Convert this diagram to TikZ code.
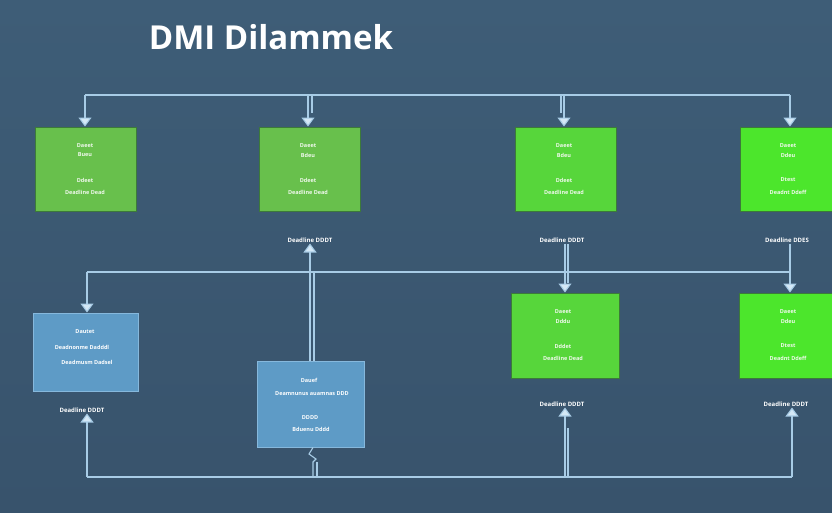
\documentclass[tikz,border=0pt]{standalone}
\usepackage{fontspec}
\setmainfont{Open Sans}
\usetikzlibrary{arrows.meta}
\definecolor{bg}{HTML}{38536C}
\definecolor{bgl}{HTML}{3E5D77}
\definecolor{ln}{HTML}{A8CCE6}
\definecolor{tipc}{HTML}{D4E8F6}
\definecolor{gA}{HTML}{68C04C}
\definecolor{gB}{HTML}{57D63B}
\definecolor{gC}{HTML}{4CE62C}
\definecolor{gbd}{HTML}{3C7A3A}
\definecolor{bl}{HTML}{5E9BC6}
\definecolor{blb}{HTML}{86B8DC}
\begin{document}
\begin{tikzpicture}[x=1pt,y=-1pt,
  gbox/.style={draw=gbd, line width=1pt, inner sep=0pt, minimum width=101pt, minimum height=84pt},
  bbox/.style={draw=blb, fill=bl, line width=1pt, inner sep=0pt},
  txt/.style={text=white!90!gA, font=\fontsize{5.5}{7}\selectfont\bfseries, inner sep=0pt},
  lbl/.style={text=white, font=\fontsize{6}{7}\selectfont\bfseries, inner sep=1pt},
  wire/.style={draw=ln, line width=1.1pt},
  arr/.style={wire, -{Triangle[width=13pt,length=9pt,fill=tipc]}}
]
\shade[top color=bgl, bottom color=bg] (0,0) rectangle (832,512);
\useasboundingbox (0,0) rectangle (832,512);

% title
\node[text=white, font=\fontsize{33}{36}\selectfont\bfseries] (title) at (271,37) {DMI Dilammek};

% top row boxes
\node[gbox, fill=gA] (b1) at (85.5,169) {};
\node[gbox, fill=gA] (b2) at (309.5,169) {};
\node[gbox, fill=gB] (b3) at (565.5,169) {};
\node[gbox, fill=gC, minimum width=92pt] (b4) at (786,169) {};

% second row green
\node[gbox, fill=gB, minimum width=108pt, minimum height=85pt] (b5) at (565,335.5) {};
\node[gbox, fill=gC, minimum width=93pt, minimum height=85pt] (b6) at (785.5,335.5) {};

% blue boxes
\node[bbox, minimum width=105pt, minimum height=78pt] (l1) at (85.5,352) {};
\node[bbox, minimum width=107pt, minimum height=86pt] (l2) at (310.5,404) {};

% texts in green boxes
\foreach \n/\x/\y/\a/\b/\c/\d in {
  t1/85/146/Daeet/Bueu/Ddeet/Deadline Dead,
  t2/308/146/Daeet/Bdeu/Ddeet/Deadline Dead,
  t3/564/146/Daeet/Bdeu/Ddeet/Deadline Dead,
  t4/788/146/Daeet/Ddeu/Dtest/Deadnt Ddeff,
  t5/563/312/Daeet/Dddu/Dddet/Deadline Dead,
  t6/788/312/Daeet/Ddeu/Dtest/Deadnt Ddeff}{
  \node[txt] (\n a) at (\x,\y) {\a};
  \node[txt] (\n b) at (\x,\y+9) {\b};
  \node[txt] (\n c) at (\x,\y+34) {\c};
  \node[txt] (\n d) at (\x,\y+46) {\d};
}

% texts in blue boxes
\node[txt, text=white] (l1a) at (85,332) {Dautet};
\node[txt, text=white] (l1b) at (82,347) {Deadnonme Dadddl};
\node[txt, text=white] (l1c) at (87,362) {Deadmusm Dadsel};
\node[txt, text=white] (l2a) at (309,380) {Dauef};
\node[txt, text=white] (l2b) at (312,394) {Deamnunus auamnas DDD};
\node[txt, text=white] (l2c) at (310,418) {DDDD};
\node[txt, text=white] (l2d) at (311,429) {Bduenu Dddd};

% labels
\node[lbl] (d2) at (310,240) {Deadline DDDT};
\node[lbl] (d3) at (562,240) {Deadline DDDT};
\node[lbl] (d4) at (787,240) {Deadline DDES};
\node[lbl] (d1) at (82,410) {Deadline DDDT};
\node[lbl] (d5) at (562,404) {Deadline DDDT};
\node[lbl] (d6) at (786,404) {Deadline DDDT};

% top bus
\coordinate (ta) at (85,95);
\coordinate (tb) at (308,95);
\coordinate (tc) at (564,95);
\coordinate (td) at (790,95);
\draw[wire] (ta) -- (td);
\draw[arr] (ta) -- (ta |- b1.north);
\draw[arr] (tb) -- (tb |- b2.north);
\draw[wire] ([xshift=4pt]tb) -- ([xshift=4pt,yshift=-18pt]tb);
\draw[arr] (tc) -- (tc |- b3.north);
\draw[wire] ([xshift=-3pt]tc) -- ([xshift=-3pt,yshift=-18pt]tc);
\draw[arr] (td) -- (td |- b4.north);

% middle bus
\coordinate (ma) at (87,272);
\coordinate (mb) at (790,272);
\draw[wire] (ma) -- (mb);
\draw[arr] (ma) -- (ma |- l1.north);
\draw[arr] (d3.south -| b5.north) -- (b5.north);
\draw[wire] ([xshift=3pt]d3.south -| b5.north) -- ([xshift=3pt,yshift=10pt]b5.north);
\draw[arr] (d4.south -| 790,0) -- (790,0 |- b6.north);
\draw[arr] (l2.north -| 310,0) -- (310,0 |- d2.south);
\draw[wire] (l2.north -| 314,0) -- (314,272);

% bottom bus
\coordinate (ba) at (87,477);
\coordinate (bb) at (792,477);
\coordinate (bs) at (313,462);
\draw[wire] (ba) -- (bb);
\draw[arr] (ba) -- (ba |- d1.south);
\draw[arr] (565,477) -- (565,0 |- d5.south);
\draw[wire] (568,477) -- (568,428);
\draw[arr] (bb) -- (bb |- d6.south);
\draw[wire] (l2.south -| 313,0) -- (309,454) -- (316,459) -- (bs) -- (313,477);
\draw[wire] (317,462) -- (317,477);
\end{tikzpicture}
\end{document}
